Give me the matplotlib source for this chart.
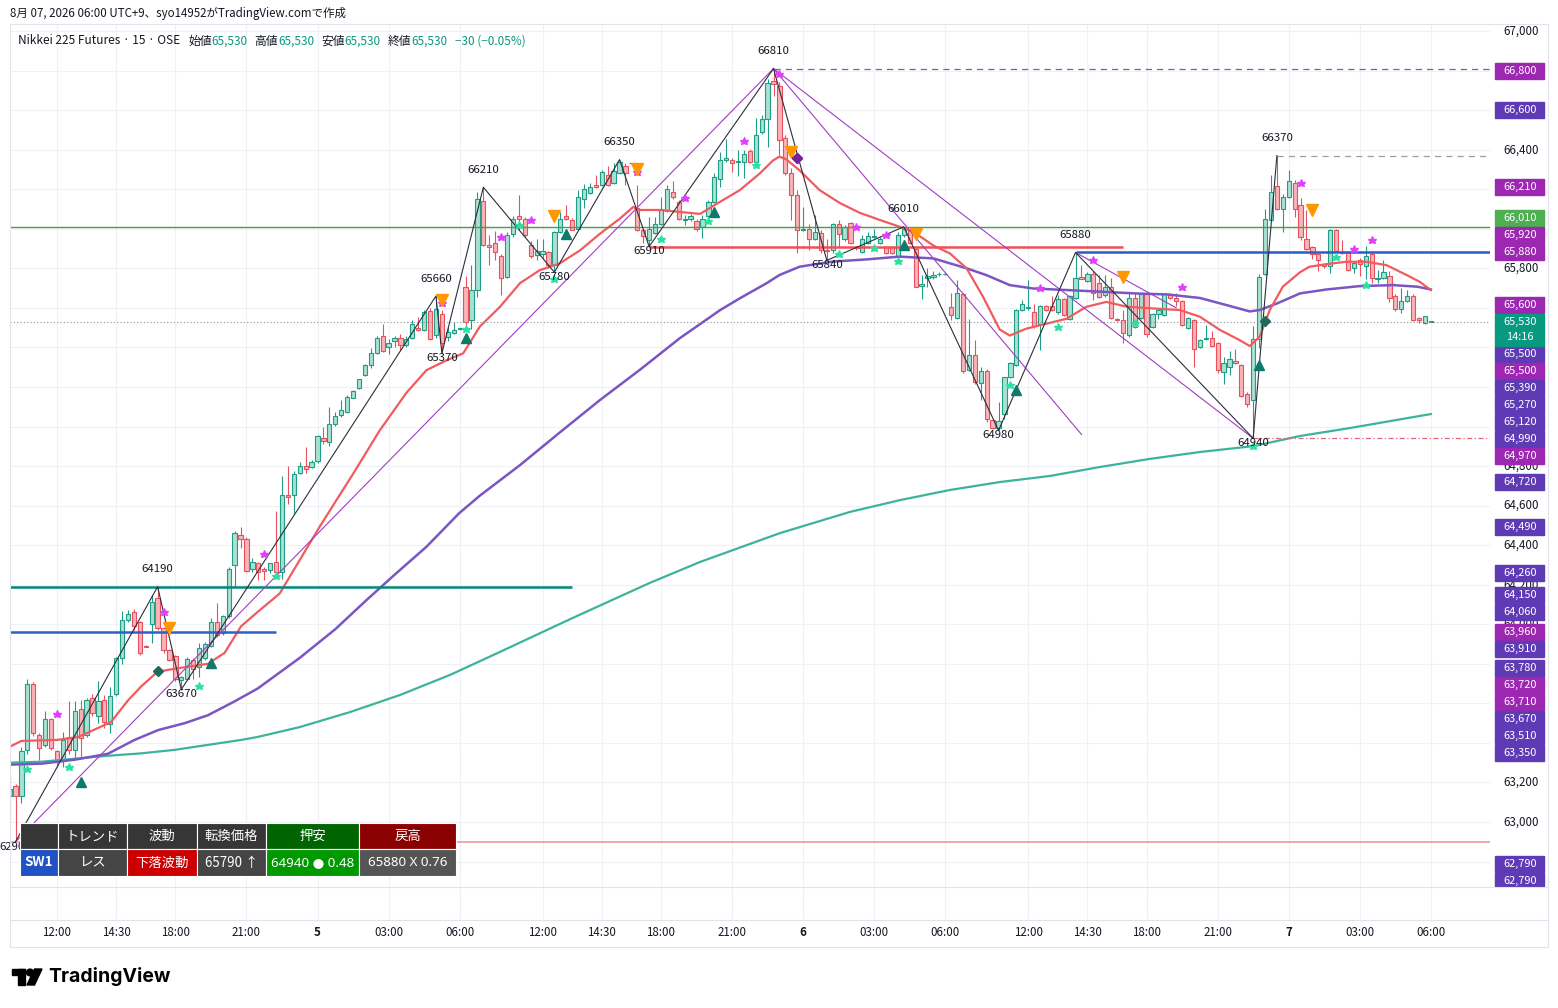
#--- IMPORTS ------------------------------------------------------------------+

import numpy as np
import matplotlib
matplotlib.use('Agg')
import matplotlib.pyplot as plt
from matplotlib.patches import Rectangle, Circle, Polygon

plt.rcParams['font.family'] = ['Noto Sans CJK JP', 'DejaVu Sans']

#--- DATA: 15 min candles, bar index 0 = 10:15 on the 4th ---------------------+

first_bar = -1

opens = [63130, 63180, 63130, 63365, 63700, 63440, 63390, 63520, 63360, 63315,
         63430, 63365, 63570, 63440, 63625, 63535, 63615, 63495, 63645, 63830,
         64020, 64060, 64010, 63890, 64000, 64135, 63980, 63870, 63840, 63720,
         63725, 63820, 63785, 63830, 63890, 64010, 63955, 64040, 64300, 64450,
         64430, 64280, 64310, 64280, 64275, 64315, 64265, 64655, 64655, 64765,
         64800, 64795, 64825, 64940, 64920, 65015, 65060, 65075, 65145, 65195,
         65260, 65310, 65370, 65460, 65400, 65430, 65450, 65410, 65450, 65500,
         65490, 65585, 65465, 65570, 65455, 65475, 65495, 65705, 65540, 65690,
         66140, 65920, 65930, 65860, 65755, 65975, 66065, 66050, 65920, 65865,
         65870, 65880, 65815, 65985, 66065, 66045, 66000, 66150, 66180, 66220,
         66220, 66270, 66230, 66280, 66315, 66330, 66105, 65995, 65945, 65980,
         66025, 66090, 66185, 66135, 66045, 66050, 66040, 66010, 66065, 66135,
         66250, 66350, 66350, 66340, 66340, 66395, 66340, 66490, 66555, 66745,
         66720, 66460, 66280, 66170, 65995, 66000, 65950, 65980, 65895, 65895,
         66025, 65950, 66030, 65910, 65880, 65930, 65960, 65930, 65910, 65910,
         65855, 65970, 65995, 65900, 65710, 65750, 65755, 65770, 65770, 65605,
         65550, 65670, 65285, 65360, 65220, 65280, 65035, 64990, 65065, 65250,
         65310, 65590, 65600, 65580, 65520, 65610, 65610, 65580, 65645, 65545,
         65650, 65755, 65735, 65770, 65725, 65665, 65705, 65545, 65540, 65465,
         65650, 65550, 65670, 65505, 65570, 65565, 65665, 65650, 65635, 65500,
         65540, 65400, 65440, 65450, 65420, 65275, 65300, 65330, 65310, 65165,
         65135, 65445, 65770, 66045, 66215, 66100, 66160, 66230, 66120, 65950,
         65910, 65870, 65820, 65810, 65995, 65880, 65880, 65800, 65840, 65810,
         65870, 65745, 65750, 65760, 65660, 65595, 65635, 65660, 65550, 65525,
         65530]

highs = [63240, 63190, 63380, 63725, 63710, 63450, 63560, 63525, 63365, 63455,
         63610, 63610, 63615, 63625, 63645, 63715, 63640, 63685, 63835, 64065,
         64070, 64075, 64015, 63895, 64150, 64190, 63985, 63875, 63845, 63740,
         63835, 63830, 63905, 63910, 64030, 64105, 64045, 64290, 64470, 64490,
         64440, 64335, 64315, 64290, 64310, 64575, 64750, 64800, 64775, 64820,
         64895, 64830, 64955, 64995, 65100, 65075, 65135, 65160, 65185, 65240,
         65315, 65395, 65460, 65520, 65445, 65460, 65470, 65460, 65540, 65555,
         65590, 65600, 65660, 65590, 65505, 65530, 65500, 65760, 65815, 66185,
         66210, 65970, 65990, 65870, 65985, 66065, 66170, 66060, 65940, 65950,
         65950, 65885, 65990, 66085, 66120, 66055, 66195, 66225, 66230, 66270,
         66295, 66315, 66330, 66350, 66330, 66335, 66220, 66000, 66060, 66060,
         66160, 66220, 66240, 66145, 66070, 66075, 66050, 66070, 66145, 66280,
         66390, 66455, 66360, 66400, 66400, 66405, 66560, 66575, 66755, 66810,
         66740, 66475, 66305, 66195, 66110, 66025, 66070, 65995, 65950, 66030,
         66045, 66020, 66035, 65915, 65970, 65985, 66000, 65960, 65915, 65915,
         65985, 66010, 66005, 65905, 65765, 65800, 65785, 65780, 65780, 65675,
         65740, 65675, 65545, 65435, 65300, 65290, 65040, 65125, 65250, 65325,
         65595, 65640, 65740, 65620, 65615, 65615, 65660, 65665, 65650, 65665,
         65880, 65815, 65780, 65785, 65765, 65765, 65750, 65550, 65590, 65675,
         65675, 65675, 65680, 65575, 65595, 65670, 65675, 65675, 65640, 65555,
         65545, 65440, 65515, 65485, 65425, 65350, 65380, 65390, 65315, 65175,
         65510, 65770, 66100, 66270, 66370, 66175, 66295, 66245, 66155, 66095,
         65915, 65875, 65825, 66000, 66000, 65945, 65885, 65835, 65850, 65915,
         65875, 65790, 65840, 65785, 65670, 65700, 65690, 65670, 65555, 65560,
         65530]

lows = [63000, 62900, 63095, 63345, 63435, 63315, 63380, 63365, 63280, 63280,
        63345, 63320, 63320, 63430, 63535, 63500, 63475, 63450, 63635, 63800,
        64010, 63970, 63845, 63885, 63905, 63970, 63855, 63815, 63715, 63670,
        63720, 63725, 63735, 63820, 63885, 63935, 63945, 64030, 64190, 64385,
        64265, 64265, 64225, 64225, 64260, 64255, 64230, 64610, 64565, 64760,
        64765, 64790, 64815, 64910, 64900, 65005, 65050, 65070, 65145, 65190,
        65255, 65295, 65365, 65375, 65365, 65400, 65385, 65400, 65445, 65485,
        65485, 65435, 65450, 65370, 65430, 65470, 65490, 65515, 65495, 65655,
        65915, 65815, 65840, 65665, 65750, 65960, 65995, 65960, 65850, 65840,
        65850, 65800, 65780, 65980, 66045, 65995, 65995, 66105, 66175, 66205,
        66215, 66215, 66225, 66275, 66220, 66325, 65990, 65930, 65910, 65975,
        66020, 66085, 66150, 66045, 66020, 66040, 65990, 65955, 66060, 66130,
        66210, 66340, 66285, 66265, 66255, 66330, 66315, 66480, 66415, 66670,
        66375, 66270, 66045, 65875, 65990, 65895, 65945, 65875, 65840, 65875,
        65910, 65940, 65925, 65895, 65875, 65925, 65955, 65925, 65870, 65870,
        65825, 65960, 65925, 65705, 65645, 65705, 65745, 65760, 65765, 65540,
        65545, 65270, 65280, 65215, 65135, 65025, 64985, 64980, 65040, 65245,
        65305, 65585, 65590, 65500, 65385, 65585, 65585, 65570, 65560, 65540,
        65645, 65745, 65730, 65640, 65650, 65655, 65545, 65535, 65420, 65455,
        65500, 65545, 65455, 65500, 65545, 65560, 65645, 65610, 65510, 65495,
        65300, 65395, 65435, 65400, 65270, 65215, 65260, 65315, 65150, 65100,
        64940, 65395, 65765, 66040, 66095, 65985, 66155, 66060, 65945, 65895,
        65845, 65785, 65800, 65775, 65890, 65870, 65785, 65775, 65760, 65745,
        65725, 65725, 65745, 65630, 65585, 65575, 65630, 65535, 65525, 65520,
        65530]

closes = [63165, 63130, 63360, 63700, 63450, 63375, 63520, 63375, 63315, 63415,
          63365, 63560, 63425, 63615, 63550, 63610, 63505, 63635, 63830, 64020,
          64050, 63990, 63855, 63885, 64115, 63980, 63870, 63820, 63725, 63735,
          63825, 63775, 63880, 63900, 64010, 63945, 64040, 64280, 64460, 64430,
          64270, 64315, 64265, 64270, 64310, 64265, 64655, 64645, 64760, 64800,
          64785, 64820, 64950, 64925, 65015, 65055, 65085, 65150, 65180, 65240,
          65310, 65370, 65450, 65380, 65420, 65450, 65410, 65440, 65520, 65490,
          65580, 65440, 65595, 65420, 65480, 65490, 65500, 65530, 65690, 66150,
          65920, 65910, 65880, 65750, 65970, 66050, 66050, 65970, 65860, 65890,
          65890, 65815, 65985, 66050, 66050, 65995, 66160, 66200, 66210, 66210,
          66285, 66220, 66290, 66340, 66280, 66330, 65995, 65965, 66000, 66025,
          66100, 66200, 66160, 66050, 66050, 66065, 66000, 66050, 66135, 66260,
          66350, 66360, 66330, 66345, 66380, 66340, 66475, 66555, 66735, 66730,
          66450, 66280, 66170, 65995, 66000, 65950, 65985, 65895, 65885, 66025,
          65975, 66010, 65930, 65905, 65950, 65965, 65965, 65950, 65875, 65875,
          65970, 66000, 65930, 65705, 65720, 65760, 65765, 65770, 65770, 65565,
          65675, 65280, 65360, 65225, 65280, 65040, 64990, 65030, 65250, 65320,
          65590, 65620, 65605, 65510, 65610, 65590, 65590, 65645, 65565, 65660,
          65750, 65745, 65770, 65675, 65655, 65705, 65550, 65540, 65475, 65650,
          65505, 65670, 65470, 65570, 65590, 65670, 65650, 65635, 65515, 65550,
          65390, 65435, 65450, 65405, 65285, 65320, 65340, 65320, 65155, 65115,
          65440, 65755, 66050, 66185, 66100, 66160, 66240, 66100, 65960, 65900,
          65870, 65840, 65810, 65995, 65890, 65875, 65790, 65825, 65820, 65860,
          65750, 65750, 65780, 65650, 65595, 65635, 65660, 65540, 65540, 65560,
          65530]

last_price = 65530
bar_timer = '14:16'

# moving averages (bar index, price)
ema_fast_x = [-1, 1, 7, 10.6, 13.9, 16.1, 19, 21.2, 24, 26.9,
              29.1, 32.5, 35.3, 38.1, 41, 44.6, 51.4, 57.1, 61.5, 66,
              69.4, 72.8, 75.6, 78.4, 81.8, 85.2, 88.5, 91.9, 95.3, 98.7,
              102, 104.3, 105.4, 108.8, 112.2, 115.6, 118.9, 122.3, 125.7, 127.9,
              129, 130.2, 132.4, 135.8, 139.2, 142.6, 145.9, 149.3, 151.6, 155,
              157.8, 160.6, 163.4, 166.2, 167.9, 170.7, 174.1, 177.5, 180.8, 184.2,
              187.6, 192.1, 196.6, 200, 203.4, 206.7, 208.4, 210.1, 211.8, 214,
              216.9, 218.5, 221.4, 224.7, 228.1, 231.5, 234.9, 237.1, 239]
ema_fast_y = [63380, 63410, 63415, 63430, 63475, 63505, 63615, 63685, 63760, 63775,
              63785, 63800, 63855, 63990, 64065, 64155, 64495, 64765, 64980, 65170,
              65285, 65335, 65370, 65505, 65605, 65725, 65790, 65825, 65890, 65975,
              66050, 66110, 66095, 66095, 66085, 66075, 66135, 66195, 66280, 66345,
              66365, 66350, 66295, 66195, 66130, 66080, 66045, 66010, 65985, 65915,
              65875, 65800, 65655, 65490, 65460, 65495, 65520, 65545, 65605, 65630,
              65606, 65597, 65589, 65555, 65488, 65437, 65407, 65454, 65589, 65707,
              65780, 65808, 65821, 65833, 65833, 65816, 65766, 65732, 65690]

ema_mid_x = [-1, 4.4, 10, 15.6, 20.1, 24.1, 28.6, 32.5, 37, 40.9,
             48, 54, 59.3, 64, 69.4, 74.9, 78.4, 85.2, 92, 98.7,
             105.4, 112.2, 119, 122.3, 126.8, 129, 132.4, 138, 143.7, 149.3,
             155, 160.6, 164, 167.9, 171.8, 177.5, 183.1, 189.8, 194.4, 200,
             205.6, 208.4, 210.1, 213, 216.9, 221.4, 227, 232.6, 236.7, 239]
ema_mid_y = [63290, 63295, 63315, 63345, 63415, 63465, 63500, 63540, 63610, 63675,
             63830, 63975, 64123, 64250, 64392, 64561, 64650, 64805, 64972, 65134,
             65286, 65447, 65589, 65648, 65724, 65766, 65808, 65834, 65845, 65859,
             65850, 65800, 65765, 65715, 65698, 65690, 65682, 65672, 65668, 65650,
             65605, 65582, 65589, 65622, 65673, 65693, 65710, 65715, 65707, 65693]

ema_slow_x = [-1, 4.4, 10, 15.6, 21.2, 26.9, 32.5, 38.1, 40.9, 48,
              56.5, 64.9, 73.4, 81.8, 94.1, 107.1, 115.6, 129.1, 140.9, 149.4,
              157.8, 166.2, 174.7, 183.1, 191.5, 200, 209.1, 216.9, 225.3, 239]
ema_slow_y = [63300, 63305, 63320, 63335, 63347, 63365, 63390, 63415, 63430, 63480,
              63556, 63642, 63744, 63860, 64032, 64209, 64315, 64461, 64568, 64628,
              64679, 64719, 64750, 64795, 64836, 64871, 64901, 64952, 64992, 65063]

# zigzag swing points (alternating low / high)
swing_idx = [0, 24, 28, 71, 72, 79, 91, 102, 107, 128, 137, 150, 166, 179, 209, 213]
swing_price = [62900, 64190, 63670, 65660, 65370, 66210, 65780, 66350, 65910,
               66810, 65840, 66010, 64980, 65880, 64940, 66370]

# purple trend / fan lines
fan_x0 = [0, 128, 128, 179]
fan_y0 = [62900, 66810, 66810, 65880]
fan_x1 = [128, 180, 209, 196]
fan_y1 = [66810, 64960, 64940, 65600]

# horizontal levels (None = runs to the pane edge)
level_price = [66010, 65910, 65880, 64190, 63960, 62900, 66810, 66370, 64940]
level_from = [None, 107, 179, None, None, None, 128, 213, 209]
level_to = [None, 187, None, 94, 44, None, None, None, None]

# signal markers
pink_star_x = [7, 25, 42, 72, 82, 87, 105, 113, 123, 129, 142, 147, 173, 182, 197, 217, 226, 229]
pink_star_y = [63545, 64060, 64355, 65625, 65960, 66045, 66285, 66155, 66445, 66785,
               66010, 65970, 65700, 65840, 65705, 66230, 65900, 65945]
green_star_x = [2, 9, 31, 44, 76, 85, 91, 109, 117, 125, 139, 145, 149, 168, 176, 189, 209, 223, 228]
green_star_y = [63270, 63280, 63690, 64245, 65495, 66020, 65745, 65950, 66040, 66320,
                65870, 65905, 65835, 65210, 65505, 65525, 64900, 65855, 65715]
buy_tri_x = [11, 33, 76, 93, 118, 150, 169, 210]
buy_tri_y = [63200, 63805, 65450, 65975, 66085, 65920, 65185, 65310]
sell_tri_x = [26, 72, 91, 105, 131, 152, 187, 219]
sell_tri_y = [63980, 65640, 66065, 66300, 66390, 65975, 65755, 66095]
diamond_x = [24, 132, 211]
diamond_y = [63765, 66360, 65535]

# price scale labels and their colour group (m = magenta, i = indigo, g = green)
scale_values = [66800, 66600, 66210, 66010, 65920, 65880, 65600, 65500, 65500, 65390,
                65270, 65120, 64990, 64970, 64720, 64490, 64260, 64150, 64060, 63960,
                63910, 63780, 63720, 63710, 63670, 63510, 63350, 62790, 62790]
scale_kinds = ['m', 'i', 'm', 'g', 'm', 'm', 'm', 'i', 'm', 'i',
               'i', 'i', 'i', 'm', 'i', 'i', 'i', 'i', 'i', 'm',
               'i', 'i', 'm', 'm', 'i', 'i', 'i', 'i', 'i']

time_idx = [7, 17, 27, 39, 51, 63, 75, 89, 99, 109, 121, 133, 145, 157,
            171, 181, 191, 203, 215, 227, 239]
time_text = ['12:00', '14:30', '18:00', '21:00', '5', '03:00', '06:00',
             '12:00', '14:30', '18:00', '21:00', '6', '03:00', '06:00',
             '12:00', '14:30', '18:00', '21:00', '7', '03:00', '06:00']

table_head = ['', 'トレンド', '波動', '転換価格', '押安', '戻高']
table_row = ['SW1', 'レス', '下落波動', '65790 ↑', '64940 ● 0.48', '65880 X 0.76']

#--- GEOMETRY (pixels of the 1558x1008 picture) ------------------------------+

W, H = 1558, 1008
PANE_L, PANE_R, PANE_T, PANE_B = 10, 1490, 25, 887
X0_PX, BAR_PX = 15.5, 5.922
P_REF, Y_REF, PX_PER_YEN = 67000, 31, 0.19775

def to_py(p):
    return Y_REF + (P_REF - p) * PX_PER_YEN

def to_price(py):
    return P_REF - (py - Y_REF) / PX_PER_YEN

def to_px(i):
    return X0_PX + i * BAR_PX

xlim = ((PANE_L - X0_PX) / BAR_PX, (PANE_R - X0_PX) / BAR_PX)
ylim = (to_price(PANE_B), to_price(PANE_T))

DARK = '#131722'
GRID = '#eef1f6'
UP_FILL, UP_EDGE = '#a9e0d2', '#1f9e86'
DN_FILL, DN_EDGE = '#f7b4b9', '#e8505d'
MAG, IND, GRN, TEAL = '#9c27b0', '#5e3bb5', '#4caf50', '#089981'

fig = plt.figure(figsize=(W / 100, H / 100), dpi=100)
ax = fig.add_axes([PANE_L / W, 1 - PANE_B / H, (PANE_R - PANE_L) / W, (PANE_B - PANE_T) / H])
pax = fig.add_axes([PANE_R / W, 1 - PANE_B / H, (1548 - PANE_R) / W, (PANE_B - PANE_T) / H])
ov = fig.add_axes([0, 0, 1, 1])
ov.set_xlim(0, W)
ov.set_ylim(H, 0)
ov.axis('off')
ov.set_zorder(5)

ax.set_xlim(*xlim)
ax.set_ylim(*ylim)
ax.set_xticks([])
ax.set_yticks([])
for s in ax.spines.values():
    s.set_visible(False)

pax.set_xlim(0, 58)
pax.set_ylim(*ylim)
pax.axis('off')

#--- GRID ---------------------------------------------------------------------+

grid_prices = np.arange(62800, 67001, 200)
for gp in grid_prices:
    ax.axhline(gp, color=GRID, lw=0.8, zorder=0)
for ti in time_idx:
    ax.axvline(ti, color=GRID, lw=0.8, zorder=0)
    ov.plot([to_px(ti)] * 2, [PANE_B, 920], color=GRID, lw=0.8)

#--- CANDLES ------------------------------------------------------------------+

o = np.array(opens)
h = np.array(highs)
l = np.array(lows)
c = np.array(closes)
x = np.arange(first_bar, first_bar + len(c))
up = c >= o
body_lo = np.minimum(o, c)
body_h = np.maximum(np.abs(c - o), 1.5)

ax.vlines(x[up], l[up], h[up], color=UP_EDGE, lw=0.8, zorder=2)
ax.vlines(x[~up], l[~up], h[~up], color=DN_EDGE, lw=0.8, zorder=2)
ax.bar(x[up], body_h[up], bottom=body_lo[up], width=0.72, color=UP_FILL,
       edgecolor=UP_EDGE, linewidth=0.8, zorder=2.5)
ax.bar(x[~up], body_h[~up], bottom=body_lo[~up], width=0.72, color=DN_FILL,
       edgecolor=DN_EDGE, linewidth=0.8, zorder=2.5)

#--- MOVING AVERAGES ----------------------------------------------------------+

ax.plot(ema_slow_x, ema_slow_y, color='#3cb39b', lw=1.6, zorder=3)
ax.plot(ema_mid_x, ema_mid_y, color='#7b55c3', lw=1.8, zorder=3)
ax.plot(ema_fast_x, ema_fast_y, color='#f25b5e', lw=1.6, zorder=3)

#--- LEVELS -------------------------------------------------------------------+

level_style = [dict(color='#43a047', lw=1.0),
               dict(color='#ef4f56', lw=1.8),
               dict(color='#2a5cc9', lw=1.8),
               dict(color='#00897b', lw=1.8),
               dict(color='#2f5fcc', lw=1.8),
               dict(color='#f3a6a6', lw=1.4),
               dict(color='#7e57c2', lw=0.9, ls=(0, (5, 4))),
               dict(color='#9e9e9e', lw=0.9, ls=(0, (5, 4))),
               dict(color='#e0677b', lw=0.9, ls=(0, (4, 2, 1, 2)))]
for lp, lf, lt, st in zip(level_price, level_from, level_to, level_style):
    x0 = xlim[0] if lf is None else lf
    x1 = xlim[1] if lt is None else lt
    ax.plot([x0, x1], [lp, lp], zorder=3.2, solid_capstyle='butt', **st)

ax.axhline(last_price, color='#8d919c', lw=0.8, ls=(0, (1, 2)), zorder=3.1)

#--- ZIGZAG, FANS, LABELS -----------------------------------------------------+

for a0, b0, a1, b1 in zip(fan_x0, fan_y0, fan_x1, fan_y1):
    ax.plot([a0, a1], [b0, b1], color='#a23dc4', lw=0.8, zorder=3.3)
ax.plot(swing_idx, swing_price, color='#2a2e39', lw=0.8, zorder=3.4)

for k, (si, sp) in enumerate(zip(swing_idx, swing_price)):
    if k % 2:
        ax.annotate(str(sp), (si, sp), xytext=(0, 12.5), textcoords='offset points',
                    ha='center', va='center', fontsize=8.2, color=DARK, zorder=6)
    else:
        ax.annotate(str(sp), (si, sp), xytext=(0, -3.5), textcoords='offset points',
                    ha='center', va='center', fontsize=8.2, color=DARK, zorder=6)

ax.plot(pink_star_x, pink_star_y, ls='none', marker='*', ms=6.2, color='#e040fb', zorder=4)
ax.plot(green_star_x, green_star_y, ls='none', marker='*', ms=6.2, color='#2de0a2', zorder=4)
ax.plot(buy_tri_x, buy_tri_y, ls='none', marker='^', ms=7.5, color='#0f7a6a', zorder=4)
ax.plot(sell_tri_x, sell_tri_y, ls='none', marker='v', ms=8, color='#ff9800', zorder=4)
ax.plot(diamond_x, diamond_y, ls='none', marker='D', ms=5.5, zorder=4,
        color='#1e6b5e')
ax.plot(diamond_x[1], diamond_y[1], ls='none', marker='D', ms=5.5, zorder=4.1,
        color='#7b1fa2')

#--- PRICE SCALE --------------------------------------------------------------+

kind_color = {'m': MAG, 'i': IND, 'g': GRN}
last_py = to_py(last_price)
box_py = [0.0] * len(scale_values)
order = sorted(range(len(scale_values)), key=lambda k: -scale_values[k])
above = [k for k in order if scale_values[k] > last_price]
below = [k for k in order if scale_values[k] <= last_price]
limit = last_py - 8
for k in reversed(above):
    box_py[k] = min(to_py(scale_values[k]), limit - 8.5)
    limit = box_py[k] - 8.5
limit = last_py + 24
for k in below:
    box_py[k] = max(to_py(scale_values[k]), limit + 8.5)
    limit = box_py[k] + 8.5

# plain ticks, skipped where the coloured labels hide them completely
covered = [(py - 8, py + 8) for py in box_py] + [(last_py - 8, last_py + 24)]

def hidden(gy):
    for yy in np.arange(gy - 4, gy + 4.01, 1.0):
        if not any(a - 1 <= yy <= b + 1 for a, b in covered):
            return False
    return True

for gp in grid_prices:
    if hidden(to_py(gp)):
        continue
    pax.text(31, gp, f'{gp:,}', ha='center', va='center', fontsize=8.3,
             color=DARK, clip_on=True)

for k in range(len(scale_values)):
    py = box_py[k]
    pax.add_patch(Rectangle((5, to_price(py + 8)), 49, 16 / PX_PER_YEN,
                            color=kind_color[scale_kinds[k]], zorder=3, clip_on=True))
    pax.text(30, to_price(py), f'{scale_values[k]:,}', ha='center', va='center',
             fontsize=7.9, color='white', zorder=4, clip_on=True)

pax.add_patch(Rectangle((5, to_price(last_py + 24)), 49, 32 / PX_PER_YEN,
                        color=TEAL, zorder=3))
pax.text(30, last_price, f'{last_price:,}', ha='center', va='center',
         fontsize=7.9, color='white', zorder=4)
pax.text(30, to_price(last_py + 15), bar_timer, ha='center', va='center',
         fontsize=7.9, color='white', zorder=4)

#--- TIME AXIS AND FRAME ------------------------------------------------------+

for ti, tt in zip(time_idx, time_text):
    ov.text(to_px(ti), 933, tt, ha='center', va='center', fontsize=8.3, color=DARK,
            fontweight='bold' if len(tt) == 1 else 'normal')

ov.plot([PANE_L, 1548], [PANE_B, PANE_B], color='#e0e3eb', lw=0.8)
ov.plot([PANE_L, 1548], [920, 920], color='#e0e3eb', lw=0.8)
ov.add_patch(Rectangle((PANE_L, 24), 1548 - PANE_L, 947 - 24, fill=False,
                       edgecolor='#e0e3eb', lw=0.8))

#--- HEADER -------------------------------------------------------------------+

renderer = fig.canvas.get_renderer()
ov.text(10, 14, '8月 07, 2026 06:00 UTC+9、syo14952がTradingView.comで作成',
        fontsize=8.3, color=DARK, va='center')

hx = 18
parts = [('Nikkei 225 Futures · 15 · OSE', DARK, 8),
         ('始値', DARK, 0), (f'{opens[-1]:,}', TEAL, 7),
         ('高値', DARK, 0), (f'{highs[-1]:,}', TEAL, 7),
         ('安値', DARK, 0), (f'{lows[-1]:,}', TEAL, 7),
         ('終値', DARK, 0), (f'{closes[-1]:,}', TEAL, 7),
         (f'−{closes[-2] - closes[-1]} (−{(closes[-2] - closes[-1]) / closes[-2] * 100:.2f}%)', TEAL, 0)]
for txt, col, gap in parts:
    t = ov.text(hx, 41, txt, fontsize=8.5, color=col, va='center', ha='left')
    hx += t.get_window_extent(renderer).width + gap

#--- TABLE --------------------------------------------------------------------+

col_x = [20, 58, 127, 197, 266, 359, 456]
head_bg = ['#363636', '#363636', '#363636', '#363636', '#006400', '#8b0000']
row_bg = ['#2152c4', '#454545', '#cc0000', '#454545', '#009a00', '#555555']
for j in range(6):
    wj = col_x[j + 1] - col_x[j]
    ov.add_patch(Rectangle((col_x[j], 823), wj, 26, facecolor=head_bg[j],
                           edgecolor='white', lw=0.8))
    ov.add_patch(Rectangle((col_x[j], 849), wj, 27, facecolor=row_bg[j],
                           edgecolor='white', lw=0.8))
    cx = col_x[j] + wj / 2
    ov.text(cx, 836, table_head[j], ha='center', va='center', fontsize=9.6, color='white')
    ov.text(cx, 862.5, table_row[j], ha='center', va='center', fontsize=9.6,
            color='white', fontweight='bold' if j == 0 else 'normal',
            family=['Noto Sans CJK JP', 'DejaVu Sans'] if j < 4 else ['Noto Sans', 'DejaVu Sans'])

#--- LOGO ---------------------------------------------------------------------+

ov.add_patch(Rectangle((12, 969), 13, 6, color='black'))
ov.add_patch(Rectangle((18.5, 969), 6.5, 16, color='black'))
ov.add_patch(Circle((30, 972.5), 3.4, color='black'))
ov.add_patch(Polygon([(27, 985), (34.5, 985), (42, 969), (34.5, 969)], color='black'))
ov.text(48, 977, 'TradingView', fontsize=14, fontweight='bold', color='black',
        va='center', ha='left', family=['Inter', 'DejaVu Sans'])

fig.savefig('out.png', dpi=100, facecolor='white')
